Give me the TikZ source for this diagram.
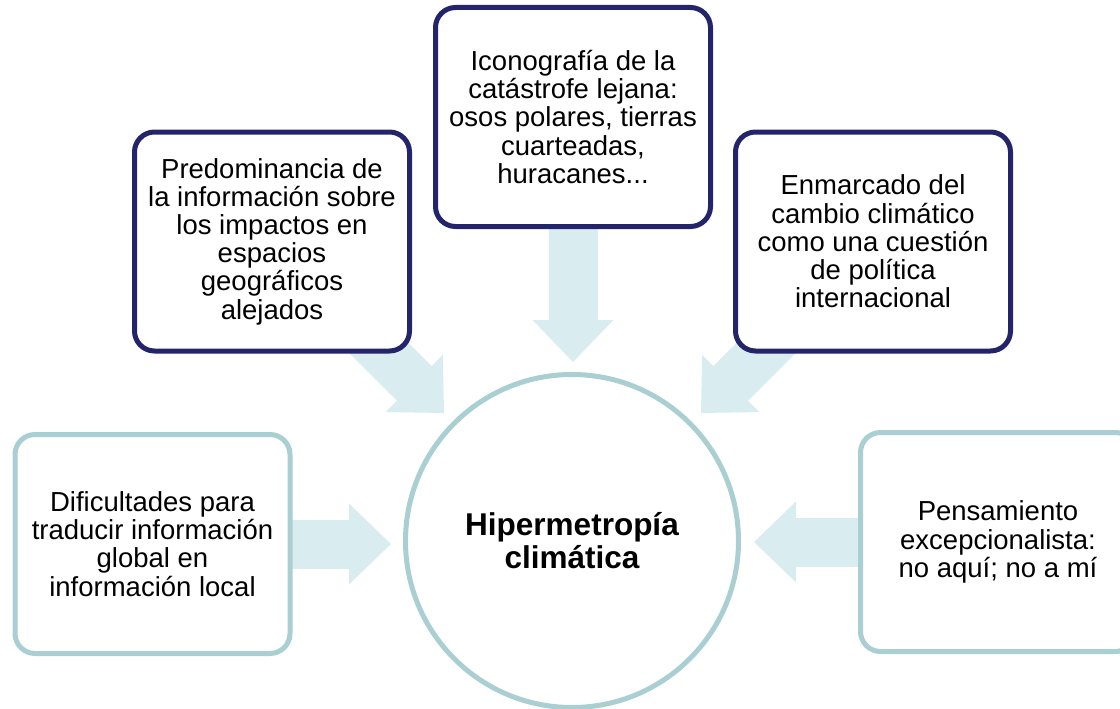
\documentclass[tikz,border=0pt]{standalone}
\usepackage{fontspec}
\setmainfont{Liberation Sans}
\usetikzlibrary{arrows.meta}
\definecolor{navyb}{HTML}{24246B}
\definecolor{tealb}{HTML}{A9CFD2}
\definecolor{arrowf}{HTML}{D9ECEF}
\tikzset{
  box/.style={draw, line width=5pt, rounded corners=20pt, fill=white,
    minimum width=275pt, minimum height=219pt, inner sep=0pt,
    align=center, font=\fontsize{27.5}{28.2}\selectfont},
  darkbox/.style={box, draw=navyb},
  lightbox/.style={box, draw=tealb},
  hub/.style={circle, draw=tealb, line width=5pt, fill=white,
    minimum size=333pt, inner sep=0pt, align=center,
    font=\fontsize{31.5}{33}\selectfont\bfseries},
  blockarrow/.style={draw=arrowf, line width=49pt, line cap=butt,
    -{Triangle[width=81pt, length=42pt, line width=0pt, fill=arrowf]}}
}
\begin{document}
\begin{tikzpicture}[x=1pt, y=-1pt]
\useasboundingbox (0,0) rectangle (1120,709);
\clip (0,0) rectangle (1120,709);
% node positions (centres)
\coordinate (pTL) at (272,241.5);
\coordinate (pTM) at (573,117);
\coordinate (pTR) at (873,241.5);
\coordinate (pL) at (152.5,544);
\coordinate (pR) at (998,542);
% arrow tips
\coordinate (tTL) at (444,413);
\coordinate (tTM) at (573,362);
\coordinate (tTR) at (701,413);
\coordinate (tL) at (391,544);
\coordinate (tR) at (754,542);
% block arrows (drawn first, boxes cover their starts)
\draw[blockarrow] (pTL) -- (tTL);
\draw[blockarrow] (pTM) -- (tTM);
\draw[blockarrow] (pTR) -- (tTR);
\draw[blockarrow] (pL) -- (tL);
\draw[blockarrow] (pR) -- (tR);
% boxes
\node[darkbox] (TL) at (pTL) {Predominancia de\\la información sobre\\los impactos en\\espacios\\geográficos\\alejados};
\node[darkbox] (TM) at (pTM) {Iconografía de la\\catástrofe lejana:\\osos polares, tierras\\cuarteadas,\\huracanes...};
\node[darkbox] (TR) at (pTR) {Enmarcado del\\cambio climático\\como una cuestión\\de política\\internacional};
\node[lightbox] (L) at (pL) {Dificultades para\\traducir información\\global en\\información local};
\node[lightbox] (R) at (pR) {Pensamiento\\excepcionalista:\\no aquí; no a mí};
\node[hub] (C) at (572,541) {Hipermetropía\\climática};
\end{tikzpicture}
\end{document}
